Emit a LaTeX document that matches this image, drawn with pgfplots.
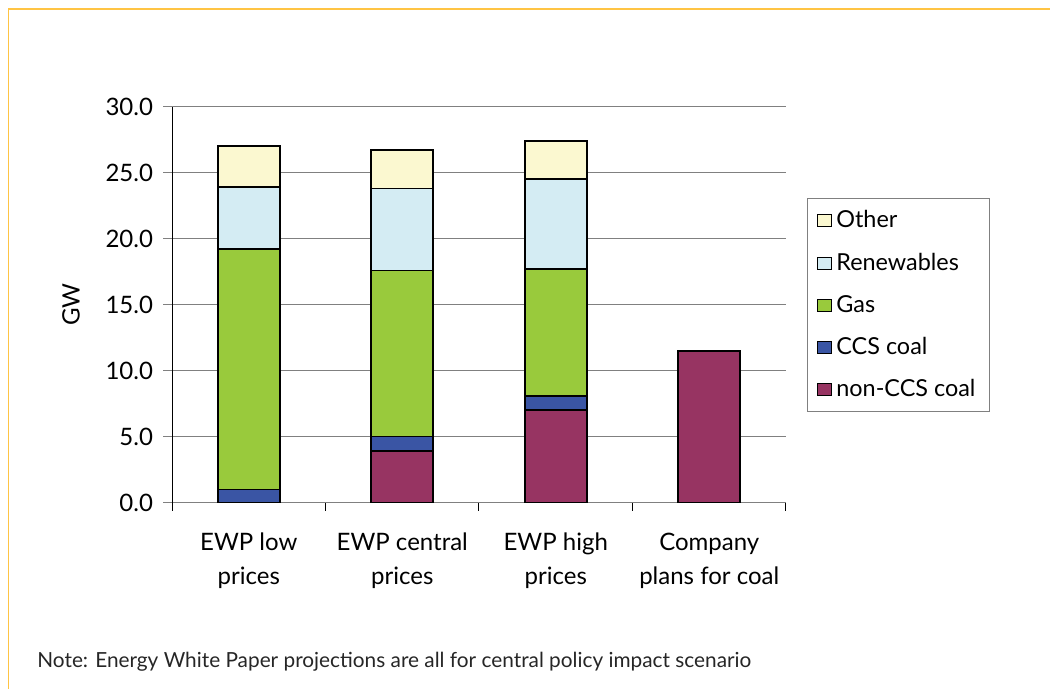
\documentclass[border=0pt]{standalone}
\usepackage{fontspec}
\setmainfont{Lato}
\usepackage{pgfplots}
\pgfplotsset{compat=1.18}

\definecolor{frameorange}{HTML}{FFC444}
\definecolor{gridgray}{HTML}{808080}
\definecolor{cOther}{HTML}{FBF8D0}
\definecolor{cRenew}{HTML}{D4ECF3}
\definecolor{cGas}{HTML}{99CA3C}
\definecolor{cCCS}{HTML}{3A55A4}
\definecolor{cCoal}{HTML}{973462}

\begin{document}
\begin{tikzpicture}
% page area and frame (one unit = half a point)
\begin{scope}[x=0.5pt,y=0.5pt]
\path[use as bounding box] (0,0) rectangle (1050,689);
\draw[frameorange, line width=0.8pt] (8.5,0) -- (8.5,680) -- (1050,680);
\node[anchor=base west, font=\fontsize{10.4}{12}\selectfont, text=black!85, inner sep=0pt] at (37,21) {Note: Energy White Paper projections are all for central policy impact scenario};
\end{scope}

\begin{axis}[
  at={(86pt,93.15pt)}, anchor=origin,
  scale only axis,
  width=307pt, height=198pt,
  ybar stacked,
  bar width=31pt,
  xmin=0, xmax=4,
  ymin=0, ymax=30,
  ytick={0,5,...,30},
  yticklabel style={font=\fontsize{12}{14}\selectfont, xshift=-1.5pt,
    /pgf/number format/fixed, /pgf/number format/fixed zerofill,
    /pgf/number format/precision=1, /pgf/number format/assume math mode=true},
  ymajorgrids,
  grid style={gridgray, line width=0.6pt},
  xtick={0.5,1.5,2.5,3.5},
  xticklabels={EWP low\\prices, EWP central\\prices, EWP high\\prices, Company\\plans for coal},
  xticklabel style={align=center, font=\fontsize{12}{17}\selectfont, yshift=-7pt},
  minor xtick={0,1,2,3,4},
  tick align=outside,
  major tick length=4.5pt,
  minor tick length=4pt,
  major x tick style={draw=none},
  minor x tick style={black, line width=0.5pt},
  major y tick style={gridgray, line width=0.6pt},
  axis x line*=bottom,
  axis y line*=left,
  x axis line style={gridgray, line width=0.6pt, -},
  y axis line style={black, line width=0.5pt, -},
  ylabel={GW},
  ylabel style={font=\fontsize{12}{14}\selectfont, yshift=6pt},
  legend style={
    at={(1.034,0.769)}, anchor=north west,
    draw=gridgray, line width=0.5pt,
    font=\fontsize{11.7}{14}\selectfont,
    row sep=7pt, inner ysep=4pt, inner xsep=5pt,
    cells={anchor=west},
  },
  reverse legend,
  legend image code/.code={\draw[#1, line width=0.5pt] (0pt,-3pt) rectangle (7pt,3pt);},
  every axis plot/.append style={draw=black, line width=0.8pt},
]
\addplot[fill=cCoal] coordinates {(0.5,0) (1.5,3.9) (2.5,7.0) (3.5,11.5)};
\addplot[fill=cCCS] coordinates {(0.5,1.0) (1.5,1.1) (2.5,1.1) (3.5,0)};
\addplot[fill=cGas] coordinates {(0.5,18.2) (1.5,12.6) (2.5,9.6) (3.5,0)};
\addplot[fill=cRenew] coordinates {(0.5,4.7) (1.5,6.2) (2.5,6.8) (3.5,0)};
\addplot[fill=cOther] coordinates {(0.5,3.1) (1.5,2.9) (2.5,2.9) (3.5,0)};
\legend{non-CCS coal, CCS coal, Gas, Renewables, Other}
\end{axis}
\end{tikzpicture}
\end{document}
